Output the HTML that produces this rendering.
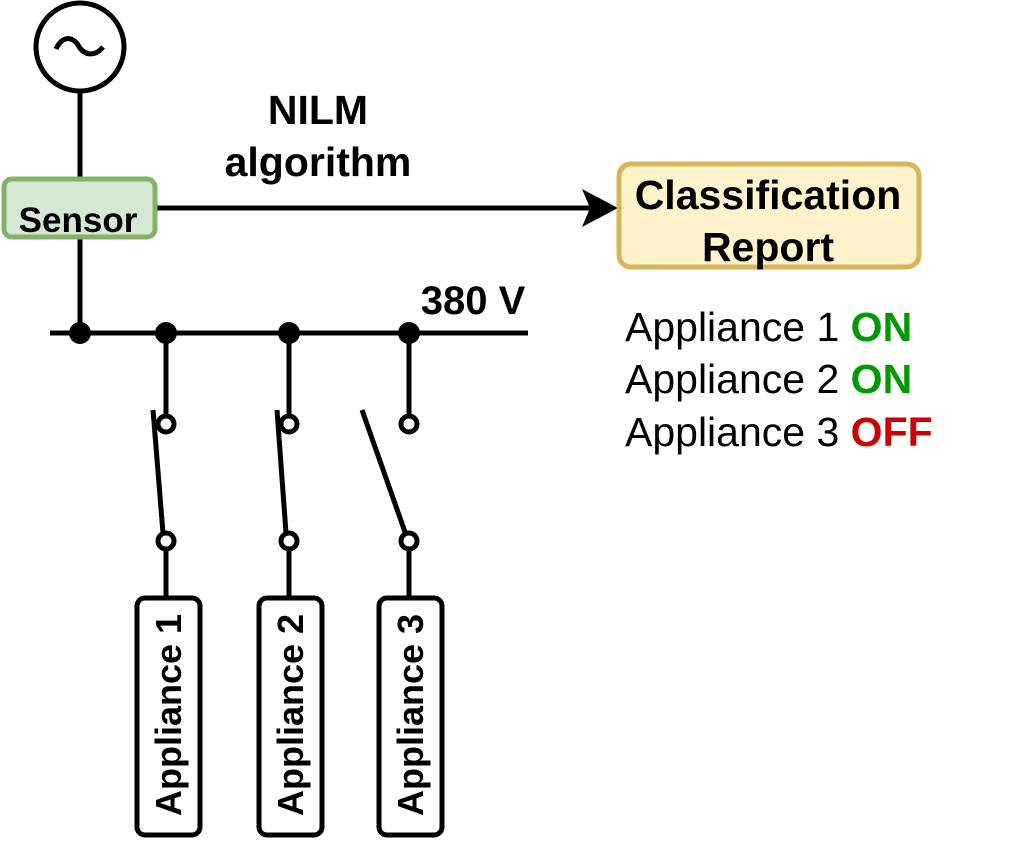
<!DOCTYPE html>
<html><head><style>body{margin:0;background:#fff}</style></head><body>
<svg width="1011" height="840" viewBox="0 0 1011 840" xmlns="http://www.w3.org/2000/svg" font-family="Liberation Sans, sans-serif">
<g stroke="#000" stroke-width="5" fill="none">
<circle cx="80" cy="47" r="44"/>
<path d="M56 49 C62 36,72 36,78 45 C84 56,95 57,103 47"/>
<line x1="80" y1="92" x2="80" y2="179"/>
<line x1="80" y1="237" x2="80" y2="333"/>
<line x1="50" y1="333" x2="528" y2="333"/>
<line x1="157" y1="208" x2="590" y2="208"/>
<line x1="166" y1="333" x2="166" y2="415"/>
<line x1="289" y1="333" x2="289" y2="415"/>
<line x1="409" y1="333" x2="409" y2="415"/>
<line x1="153" y1="410" x2="163" y2="533"/>
<line x1="277" y1="410" x2="286" y2="533"/>
<line x1="362" y1="410" x2="405" y2="532"/>
<line x1="166" y1="549" x2="166" y2="598"/>
<line x1="289" y1="549" x2="289" y2="598"/>
<line x1="409" y1="549" x2="409" y2="598"/>
<circle cx="166" cy="424" r="8" fill="#fff"/>
<circle cx="289" cy="424" r="8" fill="#fff"/>
<circle cx="409" cy="424" r="8" fill="#fff"/>
<circle cx="166" cy="541" r="8" fill="#fff"/>
<circle cx="289" cy="541" r="8" fill="#fff"/>
<circle cx="409" cy="541" r="8" fill="#fff"/>
<rect x="137" y="598" width="63" height="237" rx="8" fill="#fff"/>
<rect x="259" y="598" width="63" height="237" rx="8" fill="#fff"/>
<rect x="379" y="598" width="63" height="237" rx="8" fill="#fff"/>
</g>
<polygon points="618,208 582,189 590,208 582,227" fill="#000"/>
<g fill="#000">
<circle cx="80" cy="333" r="11"/><circle cx="166" cy="333" r="11"/><circle cx="289" cy="333" r="11"/><circle cx="409" cy="333" r="11"/>
</g>
<rect x="4" y="179" width="151" height="58" rx="8" fill="#d5e8d4" stroke="#82b366" stroke-width="5"/>
<text x="78" y="232" font-size="35" font-weight="bold" text-anchor="middle">Sensor</text>
<rect x="619" y="164" width="300" height="103" rx="12" fill="#fff2cc" stroke="#d6b656" stroke-width="5"/>
<text x="768" y="209" font-size="41" font-weight="bold" text-anchor="middle">Classification</text>
<text x="768" y="261" font-size="41" font-weight="bold" text-anchor="middle">Report</text>
<text x="318" y="124" font-size="41" font-weight="bold" text-anchor="middle">NILM</text>
<text x="318" y="176" font-size="41" font-weight="bold" text-anchor="middle">algorithm</text>
<text x="473" y="314" font-size="40" font-weight="bold" text-anchor="middle">380 V</text>
<text x="625" y="341" font-size="41">Appliance 1 <tspan fill="#009900" font-weight="bold">ON</tspan></text>
<text x="625" y="393" font-size="41">Appliance 2 <tspan fill="#009900" font-weight="bold">ON</tspan></text>
<text x="625" y="446" font-size="41">Appliance 3 <tspan fill="#cc0000" font-weight="bold">OFF</tspan></text>
<text transform="translate(181,715) rotate(-90)" font-size="36" font-weight="bold" text-anchor="middle">Appliance 1</text>
<text transform="translate(303,715) rotate(-90)" font-size="36" font-weight="bold" text-anchor="middle">Appliance 2</text>
<text transform="translate(423,715) rotate(-90)" font-size="36" font-weight="bold" text-anchor="middle">Appliance 3</text>
</svg>
</body></html>
